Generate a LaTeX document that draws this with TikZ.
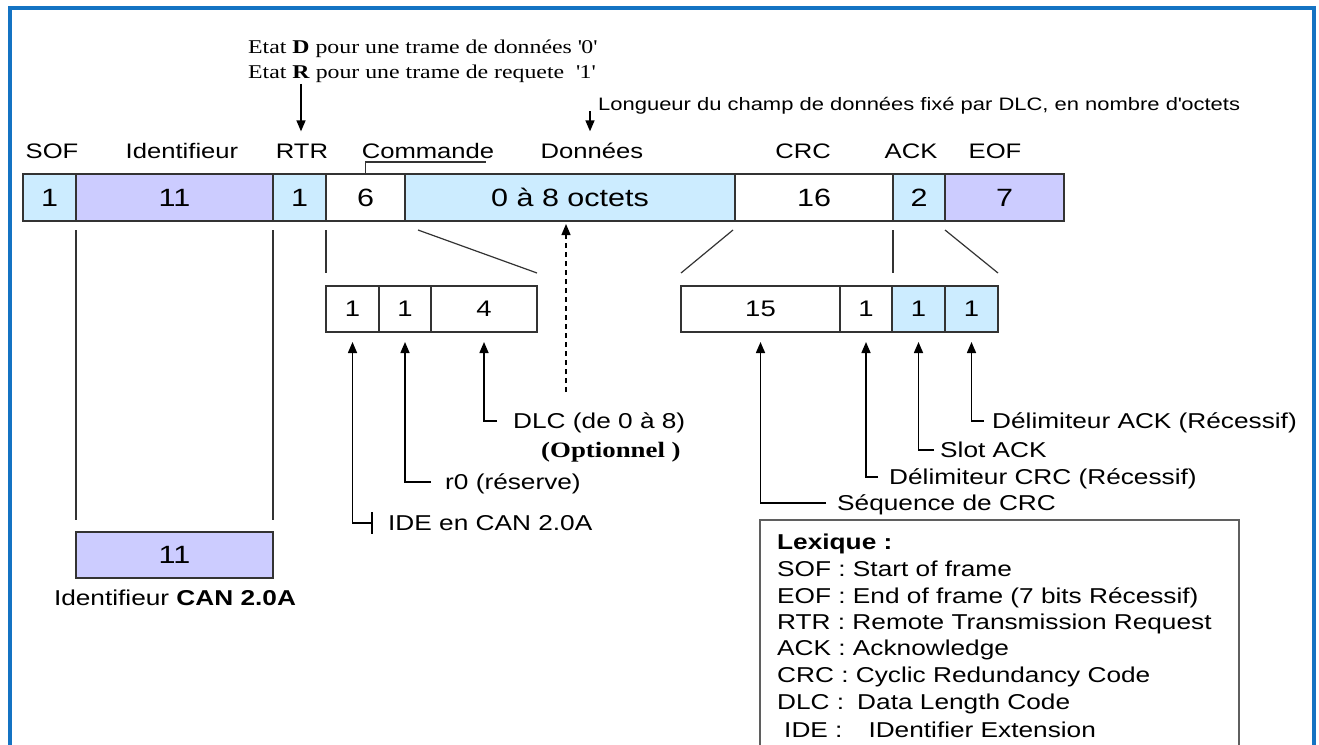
\documentclass[tikz,border=0pt]{standalone}
\usepackage{fontspec}
\setmainfont{Liberation Sans}[FakeStretch=1.22]
\newfontfamily\timesx{Liberation Serif}[FakeStretch=1.22]
\usetikzlibrary{arrows.meta}
\definecolor{frameblue}{RGB}{20,115,195}
\definecolor{lightcell}{RGB}{204,236,255}
\definecolor{lavcell}{RGB}{204,204,255}
\definecolor{edge}{RGB}{51,51,51}
\definecolor{lexedge}{RGB}{95,95,95}
\begin{document}
\begin{tikzpicture}[x=1pt,y=-1pt,
  cell/.style={draw=edge, line width=2pt, outer sep=0pt, inner sep=0pt,
    minimum height=47pt, font=\fontsize{25}{30}\selectfont},
  subcell/.style={draw=edge, line width=1.6pt, outer sep=0pt, inner sep=0pt,
    minimum height=46pt, font=\fontsize{22.5}{27}\selectfont},
  fieldname/.style={anchor=base, inner sep=0pt, font=\fontsize{21}{25}\selectfont},
  note/.style={anchor=base west, inner sep=0pt, font=\fontsize{21.5}{25}\selectfont},
  serifnote/.style={anchor=base west, inner sep=0pt, font=\timesx\fontsize{19.5}{23}\selectfont},
  thin/.style={draw=edge, line width=1.2pt},
  arr/.style={draw=black, line width=1.5pt, -{Triangle[length=11pt,width=9pt]}},
  lexline/.style={anchor=base west, inner sep=0pt, font=\fontsize{21.5}{25}\selectfont},
]
\useasboundingbox (0,0) rectangle (1319,744);
\clip (0,0) rectangle (1319,744);
\fill[white] (0,0) rectangle (1319,744);
\draw[frameblue, line width=4pt] (10,8) rectangle (1314,800);

% --- top notes ---
\node[serifnote] (etatd) at (248,53.5) {Etat \textbf{D} pour une trame de données \textquotesingle 0\textquotesingle};
\node[serifnote] (etatr) at (248,78.5) {Etat \textbf{R} pour une trame de requete \ \textquotesingle 1\textquotesingle};
\node[note, font=\fontsize{18}{22}\selectfont] (longueur) at (598,110)
  {Longueur du champ de données fixé par DLC, en nombre d\textquotesingle octets};

% --- field names ---
\node[fieldname] (sofname) at (52,158.5) {SOF};
\node[fieldname] (idname) at (182,158.5) {Identifieur};
\node[fieldname] (rtrname) at (302,158.5) {RTR};
\node[fieldname] (cmdname) at (428,158.5) {Commande};
\node[fieldname] (donname) at (592,158.5) {Données};
\node[fieldname] (crcname) at (803,158.5) {CRC};
\node[fieldname] (ackname) at (911,158.5) {ACK};
\node[fieldname] (eofname) at (995,158.5) {EOF};

\draw[arr] ([xshift=-1pt,yshift=60pt]rtrname.north) -- ([xshift=-1pt,yshift=12.5pt]rtrname.north);
\draw[arr] ([xshift=-2pt,yshift=31.5pt]donname.north) -- ([xshift=-2pt,yshift=11.5pt]donname.north);

% --- frame fields ---
\node[cell, fill=lightcell, minimum width=53pt] (sof) at (49.5,197.5) {1};
\node[cell, fill=lavcell, minimum width=197pt] (idf) at (174.5,197.5) {11};
\node[cell, fill=lightcell, minimum width=53pt] (rtr) at (299.5,197.5) {1};
\node[cell, fill=white, minimum width=79pt] (cmd) at (365.5,197.5) {6};
\node[cell, fill=lightcell, minimum width=330pt] (dat) at (570,197.5) {0 à 8 octets};
\node[cell, fill=white, minimum width=158pt] (crc) at (814,197.5) {16};
\node[cell, fill=lightcell, minimum width=52pt] (ack) at (919,197.5) {2};
\node[cell, fill=lavcell, minimum width=119pt] (eof) at (1004.5,197.5) {7};

\draw[thin] (cmd.north) -- ++(0,-12) -- ++(120,0);

% --- command field detail ---
\node[subcell, minimum width=53pt] (ide) at (352.5,309) {1};
\node[subcell, minimum width=52pt] (rzero) at (405,309) {1};
\node[subcell, minimum width=106pt] (dlc) at (484,309) {4};

% --- CRC / ACK detail ---
\node[subcell, minimum width=159pt] (seq) at (760.5,309) {15};
\node[subcell, minimum width=52pt] (dcrc) at (866,309) {1};
\node[subcell, fill=lightcell, minimum width=53pt] (slot) at (918.5,309) {1};
\node[subcell, fill=lightcell, minimum width=53pt] (dack) at (971.5,309) {1};

% --- identifier CAN 2.0A ---
\node[cell, fill=lavcell, minimum width=197pt, minimum height=46pt] (idlow) at (174.5,555) {11};
\node[fieldname, font=\fontsize{21.5}{25}\selectfont] (idcap) at (175,605.5) {Identifieur \textbf{CAN 2.0A}};

% --- expansion lines ---
\draw[thin] ([yshift=-9pt]cmd.south west) -- ([yshift=13pt]ide.north west);
\draw[thin] ([xshift=13pt,yshift=-9pt]cmd.south east) -- ([yshift=13pt]dlc.north east);
\draw[thin] ([xshift=-2pt,yshift=-9pt]crc.south west) -- ([yshift=13pt]seq.north west);
\draw[thin] ([yshift=-9pt]ack.south west) -- ([xshift=1pt,yshift=13pt]dcrc.north east);
\draw[thin] ([yshift=-9pt]ack.south east) -- ([yshift=13pt]dack.north east);
\draw[thin] ([yshift=-9pt]idf.south west) -- ([yshift=12pt]idlow.north west);
\draw[thin] ([yshift=-9pt]idf.south east) -- ([yshift=12pt]idlow.north east);

% --- bit labels ---
\node[note] (tide) at (388,530.7) {IDE en CAN 2.0A};
\node[note] (tr0) at (445,489.7) {r0 (réserve)};
\node[note] (tdlc) at (513,428.7) {DLC (de 0 à 8)};
\node[note, font=\timesx\bfseries\fontsize{22}{26}\selectfont] (topt) at (541,457.3) {(Optionnel )};
\node[note] (tseq) at (837,510.7) {Séquence de CRC};
\node[note] (tdcrc) at (889,484.7) {Délimiteur CRC (Récessif)};
\node[note] (tslot) at (940,457.7) {Slot ACK};
\node[note] (tdack) at (992,428.7) {Délimiteur ACK (Récessif)};

\draw[arr] ([xshift=-16pt,yshift=7.7pt]tide.base west) -| ([yshift=-10pt]ide.south);
\draw[line width=1.5pt] ([xshift=-16pt,yshift=18.7pt]tide.base west) -- ([xshift=-16pt,yshift=-3.3pt]tide.base west);
\draw[arr] ([xshift=-14pt,yshift=7.7pt]tr0.base west) -| ([yshift=-10pt]rzero.south);
\draw[arr] ([xshift=-16pt,yshift=7.7pt]tdlc.base west) -| ([yshift=-10pt]dlc.south);
\draw[arr] ([xshift=-11pt,yshift=7.7pt]tseq.base west) -| ([yshift=-10pt]seq.south);
\draw[arr] ([xshift=-11pt,yshift=7.7pt]tdcrc.base west) -| ([yshift=-10pt]dcrc.south);
\draw[arr] ([xshift=-6pt,yshift=7.7pt]tslot.base west) -| ([yshift=-10pt]slot.south);
\draw[arr] ([xshift=-8pt,yshift=7.7pt]tdack.base west) -| ([yshift=-10pt]dack.south);

\coordinate (dashfoot) at (566,392);
\draw[arr, line width=1.3pt, dash pattern=on 5pt off 4pt] (dashfoot) -- ([yshift=-3pt]dashfoot |- dat.south);

% --- glossary ---
\node[draw=lexedge, line width=2.5pt, fill=white, minimum width=479pt, minimum height=280pt,
  anchor=north west, inner sep=0pt, outer sep=0pt] (lexbox) at (760,520) {};
\node[lexline, font=\bfseries\fontsize{21.5}{25}\selectfont] (lex0) at (777,549) {Lexique :};
\node[lexline] (lex1) at (777,576.5) {SOF : Start of frame};
\node[lexline] (lex2) at (777,603) {EOF : End of frame (7 bits Récessif)};
\node[lexline] (lex3) at (777,629.7) {RTR : Remote Transmission Request};
\node[lexline] (lex4) at (777,655.7) {ACK : Acknowledge};
\node[lexline] (lex5) at (777,682.7) {CRC : Cyclic Redundancy Code};
\node[lexline] (lex6) at (777,709.7) {DLC :\hspace{13pt}Data Length Code};
\node[lexline] (lex7) at (784,737.7) {IDE :\hspace{26pt}IDentifier Extension};
\end{tikzpicture}
\end{document}
